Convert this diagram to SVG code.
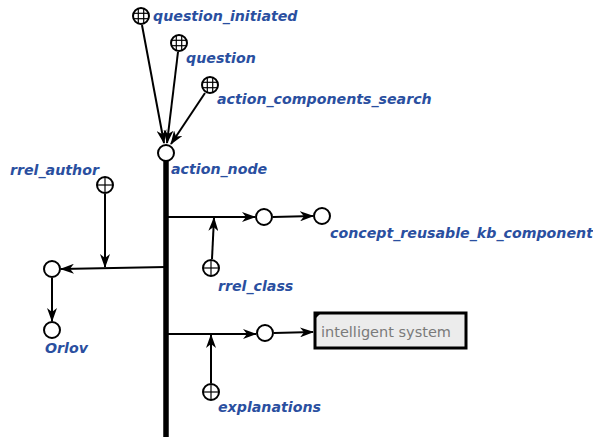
<svg xmlns="http://www.w3.org/2000/svg" width="593" height="437" viewBox="0 0 593 437">
  <style>
    .lbl { font-family: "DejaVu Sans", sans-serif; font-weight: bold; font-style: italic; font-size: 14.2px; fill: #2a4fa0; }
    .node { fill: #fff; stroke: #000; stroke-width: 2; }
    .grid { stroke: #000; stroke-width: 1.2; fill: none; }
    .arc { stroke: #000; stroke-width: 2; fill: none; }
    .bus { stroke: #000; stroke-width: 5.5; fill: none; }
  </style>
  <defs>
    <marker id="arrow" viewBox="0 0 14 10" refX="13" refY="5" markerWidth="14" markerHeight="10" markerUnits="userSpaceOnUse" orient="auto">
      <path d="M0,0 L14,5 L0,10 L4,5 z" fill="#000"/>
    </marker>
    <g id="classNode">
      <circle r="8" class="node"/>
      <line x1="-8" y1="0" x2="8" y2="0" class="grid"/>
      <line x1="0" y1="-8" x2="0" y2="8" class="grid"/>
    </g>
    <g id="setNode">
      <circle r="8" class="node"/>
      <line x1="-7.5" y1="-2.7" x2="7.5" y2="-2.7" class="grid"/>
      <line x1="-7.5" y1="2.7" x2="7.5" y2="2.7" class="grid"/>
      <line x1="-2.7" y1="-7.5" x2="-2.7" y2="7.5" class="grid"/>
      <line x1="2.7" y1="-7.5" x2="2.7" y2="7.5" class="grid"/>
    </g>
  </defs>
  <rect width="593" height="437" fill="#fff"/>

  <g id="connectors">
    <!-- incoming class arcs to the action node -->
    <line x1="142" y1="25" x2="164" y2="143" class="arc" marker-end="url(#arrow)"/>
    <line x1="178" y1="52" x2="167" y2="143" class="arc" marker-end="url(#arrow)"/>
    <line x1="205" y1="93" x2="171" y2="144" class="arc" marker-end="url(#arrow)"/>
    <!-- structure bus -->
    <line x1="166" y1="161" x2="166" y2="437" class="bus"/>
    <!-- author branch -->
    <line x1="166" y1="267" x2="61" y2="269" class="arc" marker-end="url(#arrow)"/>
    <line x1="105" y1="194" x2="105" y2="267" class="arc" marker-end="url(#arrow)"/>
    <line x1="52" y1="278" x2="52" y2="321" class="arc" marker-end="url(#arrow)"/>
    <!-- class branch -->
    <line x1="166" y1="217" x2="255" y2="217" class="arc" marker-end="url(#arrow)"/>
    <line x1="212" y1="259" x2="214" y2="218" class="arc" marker-end="url(#arrow)"/>
    <line x1="273" y1="217" x2="313" y2="216" class="arc" marker-end="url(#arrow)"/>
    <!-- explanation branch -->
    <line x1="166" y1="334" x2="256" y2="334" class="arc" marker-end="url(#arrow)"/>
    <line x1="211" y1="383" x2="211" y2="335" class="arc" marker-end="url(#arrow)"/>
    <line x1="274" y1="333" x2="313" y2="332" class="arc" marker-end="url(#arrow)"/>
  </g>

  <g id="question_initiated">
    <use href="#setNode" x="141" y="16"/>
    <text x="153" y="21" class="lbl">question_initiated</text>
  </g>
  <g id="question">
    <use href="#setNode" x="179" y="43"/>
    <text x="186" y="63" class="lbl">question</text>
  </g>
  <g id="action_components_search">
    <use href="#setNode" x="210" y="85"/>
    <text x="217" y="104" class="lbl">action_components_search</text>
  </g>
  <g id="action_node">
    <circle cx="166" cy="153" r="8" class="node"/>
    <text x="171" y="174" class="lbl">action_node</text>
  </g>
  <g id="rrel_author">
    <use href="#classNode" x="105" y="185"/>
    <text x="10" y="175" class="lbl">rrel_author</text>
  </g>
  <g id="author_value">
    <circle cx="52" cy="269" r="8" class="node"/>
  </g>
  <g id="Orlov">
    <circle cx="52" cy="330" r="8" class="node"/>
    <text x="45" y="353" class="lbl">Orlov</text>
  </g>
  <g id="class_value">
    <circle cx="264" cy="217" r="8" class="node"/>
  </g>
  <g id="concept_reusable_kb_component">
    <circle cx="322" cy="216" r="8" class="node"/>
    <text x="330" y="238" class="lbl">concept_reusable_kb_component</text>
  </g>
  <g id="rrel_class">
    <use href="#classNode" x="211" y="268"/>
    <text x="218" y="291" class="lbl">rrel_class</text>
  </g>
  <g id="explanation_value">
    <circle cx="265" cy="333" r="8" class="node"/>
  </g>
  <g id="intelligent_system">
    <rect x="315" y="313" width="151" height="35" fill="#ececec" stroke="#000" stroke-width="3"/>
    <path d="M314,312 L322,312 L314,320 z" fill="#000"/>
    <text x="321" y="337" font-family="DejaVu Sans, sans-serif" font-size="14.5" fill="#7a7a7a">intelligent system</text>
  </g>
  <g id="explanations">
    <use href="#classNode" x="211" y="392"/>
    <text x="218" y="412" class="lbl">explanations</text>
  </g>
</svg>
